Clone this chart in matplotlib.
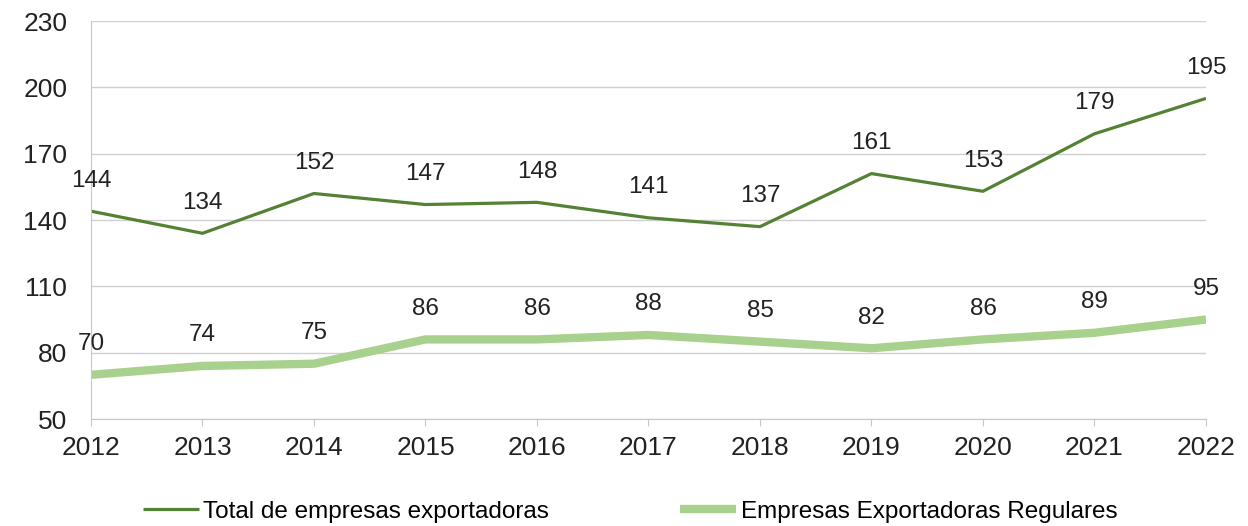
import matplotlib.pyplot as plt

plt.rcParams['font.family'] = ['Liberation Sans', 'DejaVu Sans']

years = [2012, 2013, 2014, 2015, 2016, 2017, 2018, 2019, 2020, 2021, 2022]
total = [144, 134, 152, 147, 148, 141, 137, 161, 153, 179, 195]
regulares = [70, 74, 75, 86, 86, 88, 85, 82, 86, 89, 95]

dark = '#548235'
light = '#a9d18e'

fig = plt.figure(figsize=(12.48, 5.26), dpi=100)
ax = fig.add_axes([0.0729, 0.2034, 0.8934, 0.7566])

ax.plot(years, total, color=dark, lw=2.3, label='Total de empresas exportadoras', solid_capstyle='butt')
ax.plot(years, regulares, color=light, lw=6, label='Empresas Exportadoras Regulares', solid_capstyle='butt')

for x, y in zip(years, total):
    ax.annotate(str(y), (x, y), xytext=(0, 22), textcoords='offset points',
                ha='center', va='center', fontsize=17.5, color='#222222')
for x, y in zip(years, regulares):
    ax.annotate(str(y), (x, y), xytext=(0, 22), textcoords='offset points',
                ha='center', va='center', fontsize=17.5, color='#222222')

ax.set_xlim(2012, 2022)
ax.set_ylim(50, 230)
ax.set_yticks(range(50, 231, 30))
ax.set_xticks(years)
ax.grid(axis='y', color='#d0d0d0', lw=1)
ax.set_axisbelow(True)
for s in ['top', 'right']:
    ax.spines[s].set_visible(False)
ax.spines['left'].set_color('#c8c8c8')
ax.spines['bottom'].set_color('#c8c8c8')
ax.tick_params(axis='y', length=0, labelsize=19, labelcolor='#222222', pad=17)
ax.tick_params(axis='x', length=5, color='#c8c8c8', labelsize=19, labelcolor='#222222', pad=7)

fig.legend(loc='center', bbox_to_anchor=(0.505, 0.027), ncol=2, frameon=False,
           fontsize=17.5, handlelength=2.3, handletextpad=0.2, columnspacing=5.4)

fig.savefig('out.png', dpi=100, facecolor='white')
